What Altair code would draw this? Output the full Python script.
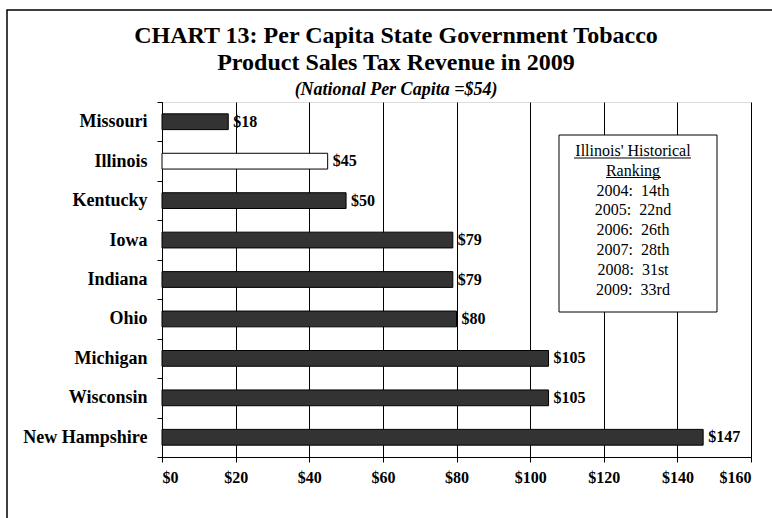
import altair as alt
import pandas as pd

states = ["Missouri", "Illinois", "Kentucky", "Iowa", "Indiana", "Ohio",
          "Michigan", "Wisconsin", "New Hampshire"]
values = [18, 45, 50, 79, 79, 80, 105, 105, 147]
x_ticks = [0, 20, 40, 60, 80, 100, 120, 140, 160]
years = [2004, 2005, 2006, 2007, 2008, 2009]
ranks = ["14th", "22nd", "26th", "28th", "31st", "33rd"]
highlight = "Illinois"

title_lines = ["CHART 13: Per Capita State Government Tobacco",
               "Product Sales Tax Revenue in 2009"]
subtitle = "(National Per Capita =$54)"
box_header = ["Illinois' Historical", "Ranking"]

FONT = "Liberation Serif"

df = pd.DataFrame({"state": states, "value": values})
df["label"] = ["$" + str(v) for v in values]
one = pd.DataFrame({"k": [0]})

x_enc = alt.X("value:Q",
              scale=alt.Scale(domain=[0, 160], nice=False),
              axis=alt.Axis(values=x_ticks, labelExpr="'$' + datum.value",
                            title=None, grid=True, gridColor="#000000",
                            gridWidth=1, domainColor="#000000", tickColor="#000000",
                            tickSize=5, labelFont=FONT, labelFontSize=16,
                            labelFontWeight="bold", labelColor="#000000",
                            labelPadding=7))
y_enc = alt.Y("state:N", sort=states,
              scale=alt.Scale(paddingInner=0, paddingOuter=0),
              axis=alt.Axis(title=None, tickBand="extent", tickSize=5,
                            domainColor="#000000", tickColor="#000000",
                            labelFont=FONT, labelFontSize=18, labelFontWeight="bold",
                            labelColor="#000000", labelPadding=10, grid=False))

bars = alt.Chart(df).mark_bar(stroke="#000000", strokeWidth=1,
                              height=alt.RelativeBandSize(0.4)).encode(
    x=x_enc, y=y_enc,
    color=alt.condition(alt.datum.state == highlight, alt.value("#ffffff"),
                        alt.value("#333333")),
)
labels = alt.Chart(df).mark_text(align="left", baseline="middle", dx=5,
                                 font=FONT, fontSize=16, fontWeight="bold",
                                 color="#000000").encode(
    x="value:Q", y=alt.Y("state:N", sort=states), text="label:N")

box = alt.Chart(one).mark_rect(fill="#ffffff", stroke="#000000", strokeWidth=1).encode(
    x=alt.value(397), x2=alt.value(555), y=alt.value(33), y2=alt.value(210))

lines = box_header + [f"{y}:\u00a0 {r}" for y, r in zip(years, ranks)]
box_text = alt.Chart(one).mark_text(text=lines, align="center", baseline="alphabetic",
                                    lineHeight=19.8, font=FONT, fontSize=16,
                                    color="#000000").encode(
    x=alt.value(471), y=alt.value(54))

ul1 = alt.Chart(one).mark_rule(color="#000000", strokeWidth=1).encode(
    x=alt.value(412), x2=alt.value(529), y=alt.value(56))
ul2 = alt.Chart(one).mark_rule(color="#000000", strokeWidth=1).encode(
    x=alt.value(444), x2=alt.value(499), y=alt.value(75.5))

title = alt.Chart(one).mark_text(text=title_lines, align="center", baseline="alphabetic",
                                 lineHeight=27, font=FONT, fontSize=24,
                                 fontWeight="bold", color="#000000").encode(
    x=alt.value(234), y=alt.value(-59.5))
sub = alt.Chart(one).mark_text(text=subtitle, align="center", baseline="alphabetic",
                               font=FONT, fontSize=18, fontWeight="bold",
                               fontStyle="italic", color="#000000").encode(
    x=alt.value(234), y=alt.value(-7))

border = alt.Chart(one).mark_rect(fillOpacity=0, stroke="#000000", strokeWidth=1.5).encode(
    x=alt.value(-155), x2=alt.value(640), y=alt.value(-92), y2=alt.value(440))

chart = alt.layer(bars, labels, box, box_text, ul1, ul2, title, sub, border).properties(
    width=589, height=355,
    autosize=alt.AutoSizeParams(type="none"),
    padding={"left": 162, "top": 102, "right": 21, "bottom": 61},
).configure_view(stroke="#808080", strokeWidth=1).configure(background="#ffffff")

chart.save("out.html", embed_options={"renderer": "svg", "actions": False})
